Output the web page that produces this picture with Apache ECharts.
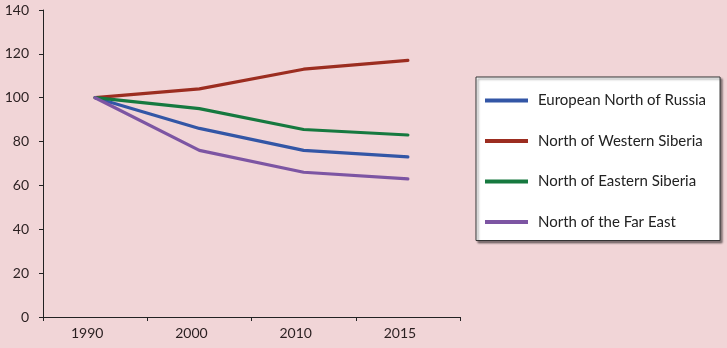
<!DOCTYPE html>
<html>
<head>
<meta charset="utf-8">
<script src="https://cdn.jsdelivr.net/npm/echarts@6/dist/echarts.min.js"></script>
<style>
  html, body { margin: 0; padding: 0; background: #f1d5d7; }
  #chart { width: 727px; height: 348px; }
</style>
</head>
<body>
<div id="chart"></div>
<script>
// years on the x axis
var years = ['1990', '2000', '2010', '2015'];
// index values, 1990 = 100
var europeanNorth = [100, 86, 76, 73];
var westernSiberia = [100, 104, 113, 117];
var easternSiberia = [100, 95, 85.5, 83];
var farEast = [100, 76, 66, 63];

var names = ['European North of Russia', 'North of Western Siberia', 'North of Eastern Siberia', 'North of the Far East'];
var colors = ['#3356a6', '#9c2d20', '#16793f', '#7d55a3'];
var values = [europeanNorth, westernSiberia, easternSiberia, farEast];

var font = 'Lato, "Open Sans", sans-serif';

var series = values.map(function (v, i) {
    return {
        name: names[i],
        type: 'line',
        data: v,
        symbol: 'none',
        lineStyle: { width: 3.2, color: colors[i], cap: 'round', join: 'round' },
        itemStyle: { color: colors[i] }
    };
});

var option = {
    backgroundColor: '#f1d5d7',
    animation: false,
    grid: { left: 43, right: 267, top: 10, bottom: 31 },
    xAxis: {
        type: 'category',
        data: years,
        boundaryGap: true,
        axisLine: { lineStyle: { color: '#222', width: 1 } },
        axisTick: { show: true, length: 4, lineStyle: { color: '#222' } },
        axisLabel: { color: '#2a1f20', fontSize: 14, fontFamily: font, margin: 9, padding: [0, 16, 0, 0] },
        splitLine: { show: false }
    },
    yAxis: {
        type: 'value',
        min: 0,
        max: 140,
        interval: 20,
        axisLine: { show: true, lineStyle: { color: '#222', width: 1 } },
        axisTick: { show: true, length: 4, lineStyle: { color: '#222' } },
        axisLabel: { color: '#2a1f20', fontSize: 14, fontFamily: font, margin: 14 },
        splitLine: { show: false }
    },
    legend: {
        orient: 'vertical',
        left: 476,
        top: 77,
        width: 244,
        icon: 'rect',
        itemWidth: 43,
        itemHeight: 4,
        itemGap: 25.5,
        padding: [16, 14, 11, 9],
        backgroundColor: '#ffffff',
        borderColor: '#333',
        borderWidth: 1,
        borderRadius: 0,
        shadowColor: 'rgba(0,0,0,0.45)',
        shadowBlur: 2,
        shadowOffsetX: 2,
        shadowOffsetY: 2,
        textStyle: { color: '#222', fontSize: 15, fontFamily: font, padding: [0, 0, 0, 5] },
        data: names
    },
    series: series
};

var myChart = echarts.init(document.getElementById('chart'));
myChart.setOption(option);
</script>
</body>
</html>
